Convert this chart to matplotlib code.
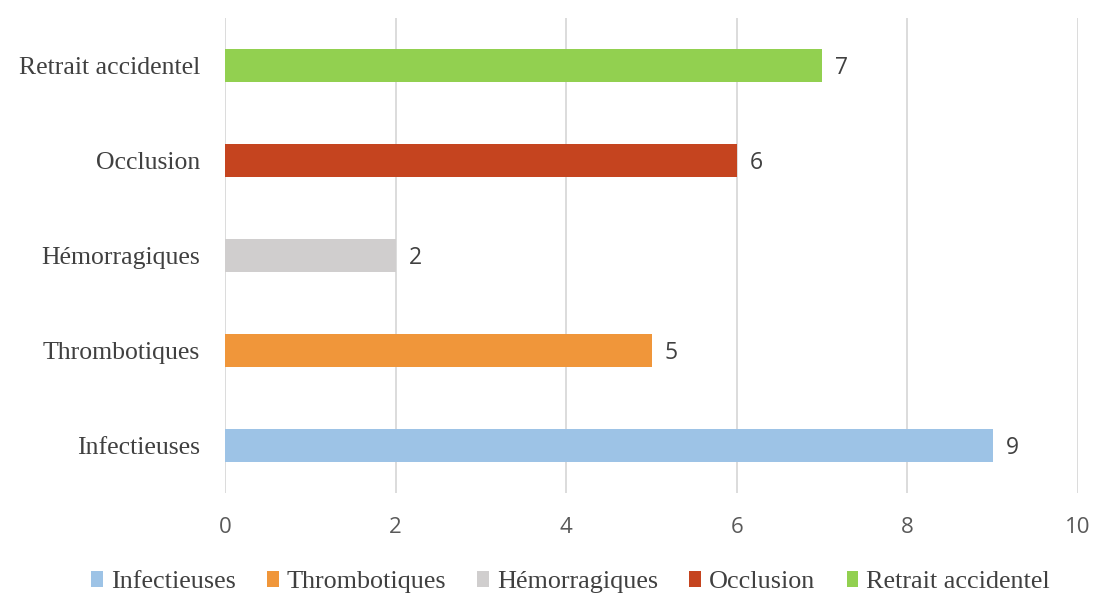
import matplotlib
matplotlib.use("Agg")
import matplotlib.pyplot as plt
from matplotlib.patches import Patch

categories = ["Infectieuses", "Thrombotiques", "Hémorragiques", "Occlusion", "Retrait accidentel"]
values = [9, 5, 2, 6, 7]
colors = ["#9DC3E6", "#F0963A", "#D0CECE", "#C5441F", "#92D050"]
xticks = [0, 2, 4, 6, 8, 10]

fig = plt.figure(figsize=(10.95, 5.94), dpi=100)
ax = fig.add_axes([0.2055, 0.170, 0.779, 0.800])

ypos = list(range(len(categories)))
ax.barh(ypos, values, height=0.35, color=colors, zorder=3)
for y, v in zip(ypos, values):
    ax.text(v + 0.15, y, str(v), va="center_baseline", ha="left", fontsize=16.5,
            family="Open Sans", color="#404040")

ax.set_xlim(0, 10)
ax.set_ylim(-0.5, 4.5)
ax.set_xticks(xticks)
ax.set_xticklabels([str(t) for t in xticks], family="Open Sans", fontsize=16, color="#595959")
ax.set_yticks(ypos)
ax.set_yticklabels(categories, family="Liberation Serif", fontsize=18.5, color="#404040")
ax.tick_params(axis="both", length=0)
ax.tick_params(axis="x", pad=17)
ax.tick_params(axis="y", pad=18)
ax.xaxis.grid(True, color="#D9D9D9", linewidth=1.3, zorder=0)
for s in ax.spines.values():
    s.set_visible(False)

handles = [Patch(facecolor=c, edgecolor="none") for c in colors]
fig.legend(handles, categories, loc="center", bbox_to_anchor=(0.521, 0.02), ncol=5,
           frameon=False, prop={"family": "Liberation Serif", "size": 18.8},
           handlelength=0.45, handleheight=0.6, handletextpad=0.3, columnspacing=1.2,
           labelcolor="#404040")

fig.savefig("out.png", dpi=100)
